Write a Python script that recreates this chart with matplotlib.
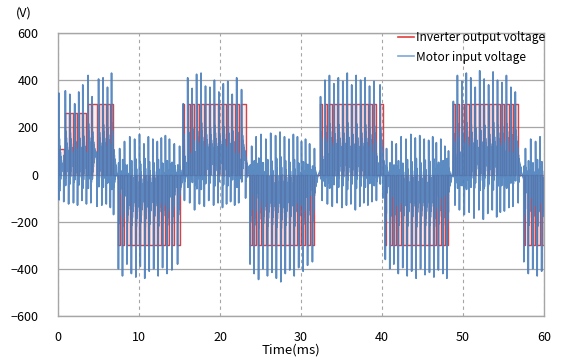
import matplotlib
matplotlib.use('Agg')
import matplotlib.pyplot as plt
from matplotlib.lines import Line2D
import numpy as np

plt.rcParams['font.family'] = ['Noto Sans CJK KR', 'DejaVu Sans']

# switching pulses of the inverter output (ms)
pulse_on = [0.10, 0.90, 1.45, 2.05, 2.55, 3.05, 3.70, 4.20, 5.00, 5.55, 6.10, 6.60,
            7.45, 7.95, 8.50, 9.05, 9.60, 10.15, 10.70, 11.25, 11.80, 12.35, 12.90, 13.45, 14.05, 14.75,
            15.45, 16.00, 16.55, 17.10, 17.65, 18.20, 18.75, 19.30, 19.85, 20.40, 20.95, 21.50, 22.05, 22.65,
            23.70, 24.20, 24.75, 25.30, 25.85, 26.40, 26.95, 27.50, 28.05, 28.60, 29.15, 29.70, 30.25, 30.80, 31.40,
            32.40, 32.95, 33.50, 34.05, 34.60, 35.15, 35.70, 36.25, 36.80, 37.35, 37.90, 38.45, 39.00, 39.75,
            40.40, 40.95, 41.45, 42.00, 42.55, 43.10, 43.65, 44.20, 44.75, 45.30, 45.85, 46.40, 46.95, 47.50, 48.00,
            48.80, 49.30, 49.85, 50.40, 50.95, 51.50, 52.05, 52.60, 53.15, 53.70, 54.25, 54.80, 55.35, 55.90, 56.45,
            57.50, 58.05, 58.60, 59.15, 59.70]
pulse_off = [0.70, 1.30, 1.90, 2.40, 2.95, 3.50, 4.05, 4.80, 5.40, 5.95, 6.45, 6.85,
             7.60, 8.20, 8.85, 9.45, 10.05, 10.60, 11.15, 11.70, 12.25, 12.75, 13.25, 13.75, 14.35, 15.00,
             15.60, 16.25, 16.85, 17.45, 18.05, 18.60, 19.20, 19.75, 20.30, 20.80, 21.30, 21.80, 22.30, 23.15,
             23.90, 24.45, 25.05, 25.65, 26.25, 26.85, 27.40, 27.95, 28.50, 29.05, 29.55, 30.05, 30.55, 31.05, 31.65,
             32.60, 33.25, 33.85, 34.45, 35.05, 35.60, 36.15, 36.70, 37.25, 37.75, 38.25, 38.75, 39.30, 40.10,
             40.55, 41.20, 41.75, 42.35, 42.95, 43.55, 44.10, 44.65, 45.20, 45.75, 46.25, 46.70, 47.25, 47.75, 48.20,
             49.00, 49.55, 50.15, 50.75, 51.35, 51.95, 52.50, 53.05, 53.60, 54.15, 54.60, 55.10, 55.65, 56.15, 56.80,
             57.70, 58.35, 58.95, 59.50, 60.00]
pulse_level = ([110, 260, 260, 260, 260, 260, 300, 300, 300, 300, 300, 300]
               + [-300] * 14 + [300] * 14 + [-300] * 15 + [300] * 14
               + [-300] * 15 + [300] * 15 + [-300] * 5)

# motor terminal overshoot at each switch-on edge and undershoot at switch-off (V)
blue_peak = [345, 355, 340, 300, 350, 380, 420, 330, 405, 410, 370, 430,
             -400, -430, -380, -420, -435, -390, -440, -410, -400, -430, -395, -420, -405, -380,
             300, 410, 365, 425, 430, 375, 370, 400, 350, 385, 395, 340, 410, 360,
             -380, -420, -445, -400, -430, -415, -440, -455, -420, -405, -430, -395, -410, -385, -370,
             330, 400, 420, 385, 410, 395, 430, 380, 420, 400, 410, 375, 395, 380,
             -360, -400, -380, -420, -395, -430, -410, -440, -400, -425, -415, -435, -405, -420, -440,
             310, 420, 395, 430, 410, 370, 440, 405, 380, 435, 400, 390, 420, 370, 350,
             -370, -420, -400, -430, -410]
blue_dip = [-115, -125, -120, -130, -110, -125, -120, -135, -130, -125, -140, -170,
            110, 140, 160, 150, 170, 130, 160, 150, 140, 155, 165, 150, 130, 120,
            -110, -120, -150, -125, -135, -110, -130, -120, -140, -125, -115, -130, -120, -100,
            120, 160, 170, 150, 175, 165, 180, 160, 150, 170, 160, 140, 150, 130, 110,
            -110, -125, -135, -120, -140, -130, -125, -150, -135, -120, -130, -115, -110, -100,
            110, 140, 130, 160, 150, 170, 155, 165, 150, 145, 160, 135, 150, 120, 100,
            -130, -150, -170, -160, -185, -150, -190, -165, -150, -180, -160, -155, -140, -135, -120,
            110, 150, 140, 160, 0]

# ringing of the motor voltage after an edge (fraction of the first swing)
ring = [1.0, -0.45, 0.38, -0.33, 0.28, -0.24, 0.2, -0.17, 0.14, -0.11, 0.09, -0.07, 0.05]
ring_dt = 0.03

# red step trace
t_red = [0.0]
v_red = [0.0]
for on, off, lvl in zip(pulse_on, pulse_off, pulse_level):
    t_red += [on, on, off, off]
    v_red += [0, lvl, lvl, 0]
t_red.append(60.0)
v_red.append(0.0)

# blue trace: ringing after every edge
edges = []
for on, off, lvl, pk, dp in zip(pulse_on, pulse_off, pulse_level, blue_peak, blue_dip):
    s = np.sign(lvl)
    edges.append((on, 20 * s, 0.3 * lvl, pk))
    edges.append((off, 0.3 * lvl, 20 * s, dp))
t_blue = [0.0]
v_blue = [0.0]
for i, (te, pre, post, pk) in enumerate(edges):
    t_next = edges[i + 1][0] if i + 1 < len(edges) else 60.0
    t_blue.append(te)
    v_blue.append(pre)
    for k, r in enumerate(ring):
        tk = te + 0.01 + k * ring_dt
        if tk >= t_next:
            break
        t_blue.append(tk)
        v_blue.append(post + (pk - post) * r)

fig = plt.figure(figsize=(5.61, 3.61), dpi=100)
ax = fig.add_axes([58 / 561, 1 - 316 / 361, 486 / 561, 283 / 361])

for on, off, lvl in zip(pulse_on, pulse_off, pulse_level):
    ax.fill_between([on, off], 0, lvl, color='#E06060', alpha=0.12, lw=0)
ax.plot(t_red, v_red, color='#C8323A', lw=1.0, alpha=0.9, zorder=2)
ax.plot(t_blue, v_blue, color='#4A7EBB', lw=1.2, alpha=0.9, zorder=3)

ax.set_xlim(0, 60)
ax.set_ylim(-600, 600)
ax.set_xticks(np.arange(0, 61, 10))
ax.set_yticks(np.arange(-600, 601, 200))
ax.set_axisbelow(True)
ax.yaxis.grid(True, color='#A6A6A6', lw=0.9)
ax.xaxis.grid(True, color='#A6A6A6', lw=0.8, linestyle=(0, (3, 3)))
for sp in ax.spines.values():
    sp.set_color('#A6A6A6')
    sp.set_linewidth(1.0)
ax.tick_params(axis='x', length=0, pad=11, labelsize=9)
ax.tick_params(axis='y', length=0, pad=14, labelsize=9)

fig.text(24 / 561, 1 - 13 / 361, '(V)', ha='center', va='center', fontsize=9)
fig.text(291 / 561, 1 - 350 / 361, 'Time(ms)', ha='center', va='center', fontsize=9.5)

handles = [Line2D([], [], color='#E0403F', lw=1.2),
           Line2D([], [], color='#7FA7D9', lw=1.2)]
ax.legend(handles, ['Inverter output voltage', 'Motor input voltage'],
          loc='upper left', bbox_to_anchor=(398 / 561, 1 - 31 / 361),
          bbox_transform=fig.transFigure, frameon=False, fontsize=8.6,
          handlelength=1.3, handletextpad=0.2, labelspacing=0.55, borderpad=0,
          borderaxespad=0)

fig.savefig('out.png', dpi=100)
